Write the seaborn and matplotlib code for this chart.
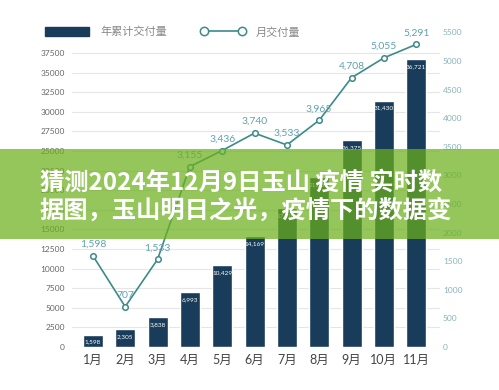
import pandas as pd
import seaborn as sns
import matplotlib.pyplot as plt
from matplotlib.patches import Rectangle
from matplotlib.lines import Line2D

# data
months = ['1月', '2月', '3月', '4月', '5月', '6月', '7月', '8月', '9月', '10月', '11月']
cumulative = [1598, 2305, 3838, 6993, 10429, 14169, 17702, 21667, 26375, 31430, 36721]
monthly = [1598, 707, 1533, 3155, 3436, 3740, 3533, 3965, 4708, 5055, 5291]
left_ticks = list(range(0, 37501, 2500))
right_ticks = list(range(0, 5501, 500))
bar_name = '年累计交付量'
line_name = '月交付量'
title_lines = ['猜测2024年12月9日玉山 疫情 实时数', '据图，玉山明日之光，疫情下的数据变']

NAVY = '#183c5a'
TEAL = '#3b8b8a'
LINE_LABEL = '#5fa2b0'

sns.set_theme(style='white')
plt.rcParams['font.family'] = ['Lato', 'Noto Sans CJK SC', 'DejaVu Sans']

df = pd.DataFrame({'month': months, 'cumulative': cumulative, 'monthly': monthly})

fig = plt.figure(figsize=(4.99, 3.90), dpi=100)
ax = fig.add_axes([0.144, 0.110, 0.738, 0.813])

# cumulative bars
sns.barplot(data=df, x='month', y='cumulative', color=NAVY, saturation=1,
            width=0.62, ax=ax)
for patch, v in zip(ax.patches, cumulative):
    ax.annotate(f'{v:,}', (patch.get_x() + patch.get_width() / 2, patch.get_height()),
                xytext=(0, -3.5), textcoords='offset points', ha='center', va='top',
                color='white', fontsize=4.6)

# monthly line on the right axis
ax2 = ax.twinx()
sns.pointplot(data=df, x='month', y='monthly', color=TEAL, errorbar=None,
              markers='o', markersize=4, markerfacecolor='white',
              markeredgewidth=1.1, linewidth=1.2, ax=ax2)
for i, v in enumerate(monthly):
    ax2.annotate(f'{v:,}', (i, v), xytext=(0, 5), textcoords='offset points',
                 ha='center', va='bottom', color=LINE_LABEL, fontsize=7.5)

# axes styling
ax.set_ylim(0, 40430)
ax2.set_ylim(0, 5542)
ax.set_xlim(-0.65, 10.74)
ax2.set_xlim(-0.65, 10.74)
ax.set_yticks(left_ticks)
ax.set_yticklabels([str(t) for t in left_ticks])
ax2.set_yticks(right_ticks)
ax2.set_yticklabels([str(t) for t in right_ticks])
ax.set_xlabel('')
ax.set_ylabel('')
ax2.set_ylabel('')
ax.grid(axis='y', color='#e6e6e6', linewidth=0.8)
ax.set_axisbelow(True)
ax.tick_params(axis='y', length=0, pad=5, labelsize=6, labelcolor='#666666')
ax.tick_params(axis='x', length=0, pad=5, labelsize=9, labelcolor='#444444')
ax2.tick_params(axis='y', length=0, pad=2, labelsize=6, labelcolor='#8ab2bd')
for a in (ax, ax2):
    for s in a.spines.values():
        s.set_visible(False)

# legend
handles = [Rectangle((0, 0), 1, 1, color=NAVY),
           Line2D([0], [0], color=TEAL, marker='o', markersize=6,
                  markerfacecolor='white', markeredgewidth=1.1, linewidth=1.2)]
fig.legend(handles, [bar_name, line_name], loc='center left',
           bbox_to_anchor=(0.07, 0.918), ncol=2, frameon=False, fontsize=8,
           handlelength=4, handleheight=0.8, handletextpad=1.0,
           columnspacing=3.0, numpoints=2, labelcolor='#888888')

# green banner over the chart
fig.add_artist(Rectangle((0, 1 - 239 / 390), 1, 90 / 390, transform=fig.transFigure,
                         facecolor='#6cb01c', alpha=0.72, edgecolor='none', zorder=10))
for line, y in zip(title_lines, [0.533, 0.459]):
    fig.text(0.08, y, line, ha='left', va='center', color='white',
             fontsize=17.5, fontweight='bold', family=['Noto Sans CJK SC', 'DejaVu Sans'],
             zorder=11)

fig.savefig('out.png', dpi=100)
